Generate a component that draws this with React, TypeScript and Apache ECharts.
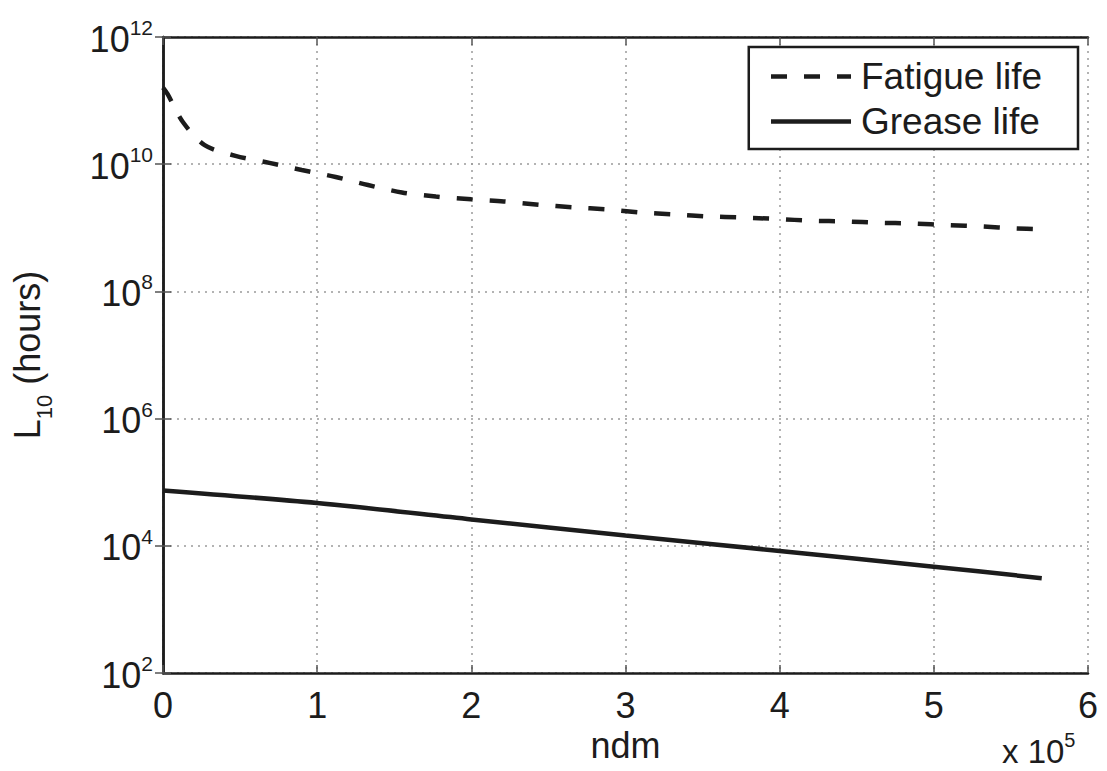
import React, { useEffect, useRef } from "react";
import * as echarts from "echarts";

// ndm in units of 10^5
const fatigueX = [0, 0.03, 0.13, 0.27, 0.47, 0.69, 0.9, 1.12, 1.33, 1.55, 1.77, 2.0, 2.21, 2.44, 2.66, 2.88, 3.1, 3.32, 3.54, 3.75, 3.98, 4.21, 4.43, 4.64, 4.86, 5.1, 5.31, 5.53, 5.7];
const fatigueLife = [1.6e11, 1.26e11, 4.57e10, 2.0e10, 1.35e10, 1.05e10, 8.1e9, 6.3e9, 4.7e9, 3.6e9, 3.1e9, 2.8e9, 2.6e9, 2.3e9, 2.1e9, 1.95e9, 1.74e9, 1.62e9, 1.51e9, 1.45e9, 1.38e9, 1.29e9, 1.26e9, 1.2e9, 1.17e9, 1.1e9, 1.05e9, 9.8e8, 9.5e8];
const greaseX = [0, 1, 2, 3, 4, 5, 5.7];
const greaseLife = [7.4e4, 4.7e4, 2.6e4, 1.45e4, 8.3e3, 4.7e3, 3.1e3];
const seriesNames = ["Fatigue life", "Grease life"];
const xTicks = [0, 1, 2, 3, 4, 5, 6];

const FONT = "Liberation Sans, Arial, sans-serif";
const INK = "#1c1c1c";

export default function App() {
  const ref = useRef<HTMLDivElement>(null);
  useEffect(() => {
    if (!ref.current) return;
    const chart = echarts.init(ref.current, null, { renderer: "svg" });
    const gridLine = { show: true, lineStyle: { color: "#9a9a9a", type: [2, 5] as any, width: 1.5 } };
    const yLabel = {
      margin: 10,
      formatter: (v: number) => `{b|10}{s|${Math.round(Math.log10(v))}}`,
      rich: {
        b: { fontSize: 36, fontFamily: FONT, color: INK, verticalAlign: "bottom", lineHeight: 40 },
        s: { fontSize: 21, fontFamily: FONT, color: INK, verticalAlign: "top", lineHeight: 22 },
      },
    };
    chart.setOption({
      animation: false,
      backgroundColor: "#ffffff",
      grid: { left: 163, right: 19, top: 37, bottom: 98, containLabel: false },
      legend: {
        orient: "vertical",
        right: 29,
        top: 47,
        backgroundColor: "#ffffff",
        borderColor: INK,
        borderWidth: 2.5,
        borderRadius: 0,
        padding: [11, 36, 9, 20],
        itemWidth: 80,
        itemHeight: 14,
        itemGap: 8,
        itemStyle: { opacity: 0 },
        lineStyle: { width: 4.5, color: INK },
        textStyle: { fontSize: 37, fontFamily: FONT, color: INK, padding: [0, 0, 0, 5] },
        data: seriesNames,
      },
      xAxis: [
        {
          type: "value",
          min: 0,
          max: 6,
          interval: 1,
          name: "ndm",
          nameLocation: "middle",
          nameGap: 54,
          nameTextStyle: { fontSize: 36, fontFamily: FONT, color: INK },
          axisLine: { show: true, lineStyle: { color: INK, width: 2.5 } },
          axisTick: { show: true, inside: true, length: 8, lineStyle: { color: "#555", width: 1.5 } },
          axisLabel: { fontSize: 36, fontFamily: FONT, color: INK, margin: 14, formatter: (v: number) => (xTicks.includes(v) ? String(v) : "") },
          splitLine: gridLine,
        },
        {
          type: "value",
          min: 0,
          max: 6,
          interval: 1,
          position: "top",
          axisLine: { show: true, lineStyle: { color: INK, width: 2.5 } },
          axisTick: { show: true, inside: true, length: 8, lineStyle: { color: "#555", width: 1.5 } },
          axisLabel: { show: false },
          splitLine: { show: false },
        },
      ],
      yAxis: [
        {
          type: "log",
          logBase: 10,
          min: 1e2,
          max: 1e12,
          interval: 2,
          name: "{a|L}{sub|10}{a| (hours)}",
          nameLocation: "middle",
          nameRotate: 90,
          nameGap: 118,
          nameTextStyle: {
            rich: {
              a: { fontSize: 36, fontFamily: FONT, color: INK, verticalAlign: "bottom", lineHeight: 40 },
              sub: { fontSize: 22, fontFamily: FONT, color: INK, verticalAlign: "bottom", lineHeight: 40, padding: [0, 0, -10, 0] },
            },
          },
          axisLine: { show: true, lineStyle: { color: INK, width: 2.5 } },
          axisTick: { show: true, inside: true, length: 8, lineStyle: { color: "#555", width: 1.5 } },
          axisLabel: yLabel,
          splitLine: gridLine,
          minorTick: { show: false },
        },
        {
          type: "log",
          logBase: 10,
          min: 1e2,
          max: 1e12,
          interval: 2,
          position: "right",
          axisLine: { show: true, lineStyle: { color: INK, width: 2.5 } },
          axisTick: { show: true, inside: true, length: 8, lineStyle: { color: "#555", width: 1.5 } },
          axisLabel: { show: false },
          splitLine: { show: false },
        },
      ],
      graphic: [
        {
          type: "text",
          left: 1002,
          top: 730,
          style: {
            text: "{b|x 10}{s|5}",
            rich: {
              b: { fontSize: 33, fontFamily: FONT, fill: INK, verticalAlign: "bottom", lineHeight: 38 },
              s: { fontSize: 20, fontFamily: FONT, fill: INK, verticalAlign: "top", lineHeight: 20 },
            },
          },
        },
      ],
      series: [
        {
          name: seriesNames[0],
          type: "line",
          xAxisIndex: 0,
          yAxisIndex: 0,
          data: fatigueX.map((x, i) => [x, fatigueLife[i]]),
          showSymbol: false,
          symbol: "none",
          smooth: 0.3,
          lineStyle: { color: INK, width: 4.5, type: [16, 17] },
          itemStyle: { color: INK },
        },
        {
          name: seriesNames[1],
          type: "line",
          xAxisIndex: 0,
          yAxisIndex: 0,
          data: greaseX.map((x, i) => [x, greaseLife[i]]),
          showSymbol: false,
          symbol: "none",
          smooth: 0.3,
          lineStyle: { color: INK, width: 4.5, type: "solid" },
          itemStyle: { color: INK },
        },
      ],
    });
    return () => chart.dispose();
  }, []);
  return <div ref={ref} style={{ width: 1107, height: 771, position: "absolute", left: 0, top: 0 }} />;
}
